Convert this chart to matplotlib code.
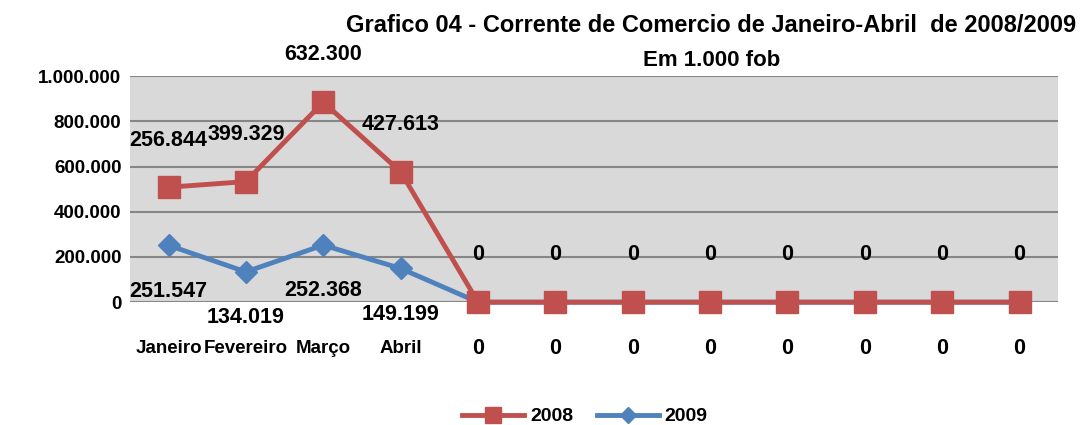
import matplotlib
matplotlib.use("Agg")
import matplotlib.pyplot as plt
from matplotlib.ticker import FuncFormatter

meses = ["Janeiro", "Fevereiro", "Março", "Abril", "", "", "", "", "", "", "", ""]
v2008 = [256844, 399329, 632300, 427613, 0, 0, 0, 0, 0, 0, 0, 0]
v2009 = [251547, 134019, 252368, 149199, 0, 0, 0, 0, 0, 0, 0, 0]

vermelho = "#C0504D"
azul = "#4F81BD"

plt.rcParams['font.family'] = ['Liberation Sans', 'DejaVu Sans']
plt.rcParams['font.weight'] = 'bold'

fig = plt.figure(figsize=(10.91, 4.25), dpi=100)
ax = fig.add_axes([0.119, 0.289, 0.851, 0.532])
ax.set_facecolor("#D9D9D9")

x = list(range(len(meses)))
# linhas empilhadas: 2008 fica por cima de 2009
topo = [a + b for a, b in zip(v2008, v2009)]

ax.plot(x, v2009, color=azul, lw=3.5, marker="D", ms=11, label="2009",
        clip_on=False, zorder=3)
ax.plot(x, topo, color=vermelho, lw=3.5, marker="s", ms=16, label="2008",
        clip_on=False, zorder=4)

for i in x:
    ax.annotate(f"{v2008[i]:,}".replace(",", "."), (i, topo[i]), xytext=(0, 34),
                textcoords="offset points", ha="center", va="center",
                fontsize=15.5, fontweight="bold")
    ax.annotate(f"{v2009[i]:,}".replace(",", "."), (i, v2009[i]), xytext=(0, -33),
                textcoords="offset points", ha="center", va="center",
                fontsize=15.5, fontweight="bold")

ax.set_xlim(-0.5, len(meses) - 0.5)
ax.set_ylim(0, 1000000)
ax.set_yticks(range(0, 1000001, 200000))
ax.yaxis.set_major_formatter(FuncFormatter(lambda v, p: f"{int(v):,}".replace(",", ".")))
ax.set_xticks(x)
ax.set_xticklabels(meses, fontsize=13.5, fontweight="bold")
ax.tick_params(length=0, labelsize=13.5, pad=6)
ax.tick_params(axis="x", pad=27, labelsize=13.5)
ax.grid(axis="y", color="#868686", lw=1.5)
ax.set_axisbelow(True)
for s in ax.spines.values():
    s.set_visible(False)

fig.text(0.652, 0.94, "Grafico 04 - Corrente de Comercio de Janeiro-Abril  de 2008/2009",
         ha="center", va="center", fontsize=17, fontweight="bold")
fig.text(0.652, 0.858, "Em 1.000 fob", ha="center", va="center",
         fontsize=16, fontweight="bold")

h, l = ax.get_legend_handles_labels()
fig.legend(h[::-1], l[::-1], loc="center", bbox_to_anchor=(0.536, 0.02), ncol=2,
           frameon=False, fontsize=14, handlelength=3.2, columnspacing=1.2,
           handletextpad=0.3, markerscale=0.75)

fig.savefig("out.png", dpi=100)
